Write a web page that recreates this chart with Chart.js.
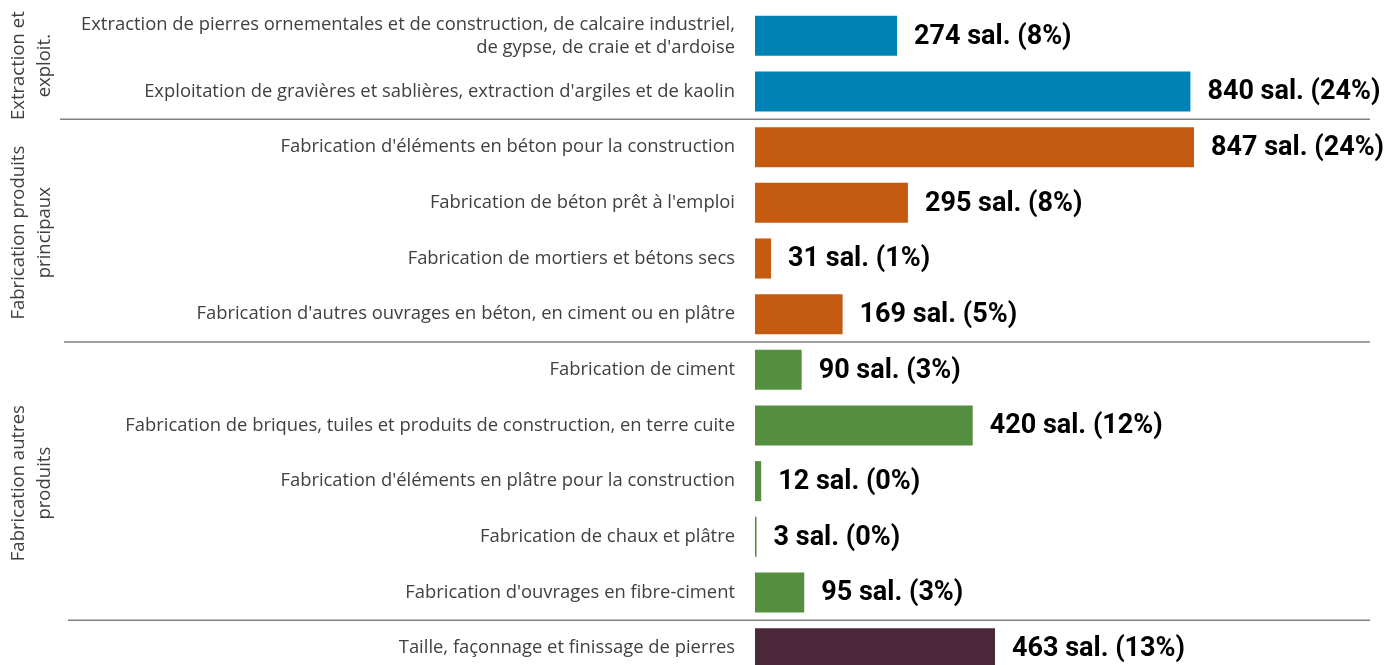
<!DOCTYPE html>
<html>
<head>
<meta charset="utf-8">
<script src="https://cdn.jsdelivr.net/npm/chart.js@4/dist/chart.umd.min.js"></script>
<style>
  html, body { margin: 0; padding: 0; background: #fff; overflow: hidden; }
  canvas { display: block; }
</style>
</head>
<body>
<canvas id="chart" width="1397" height="676"></canvas>
<script>
// données du graphique
const categories = [
  ["Extraction de pierres ornementales et de construction, de calcaire industriel,", "de gypse, de craie et d'ardoise"],
  "Exploitation de gravières et sablières, extraction d'argiles et de kaolin",
  "Fabrication d'éléments en béton pour la construction",
  "Fabrication de béton prêt à l'emploi",
  "Fabrication de mortiers et bétons secs",
  "Fabrication d'autres ouvrages en béton, en ciment ou en plâtre",
  "Fabrication de ciment",
  "Fabrication de briques, tuiles et produits de construction, en terre cuite",
  "Fabrication d'éléments en plâtre pour la construction",
  "Fabrication de chaux et plâtre",
  "Fabrication d'ouvrages en fibre-ciment",
  "Taille, façonnage et finissage de pierres"
];
const salaries = [274, 840, 847, 295, 31, 169, 90, 420, 12, 3, 95, 463];
const percents = [8, 24, 24, 8, 1, 5, 3, 12, 0, 0, 3, 13];
const groupOf = [0, 0, 1, 1, 1, 1, 2, 2, 2, 2, 2, 3];
const groupNames = [["Extraction et", "exploit."], ["Fabrication produits", "principaux"], ["Fabrication autres", "produits"], null];
const groupColors = ['#0083B4', '#C55A11', '#548F3F', '#4A2839'];

// étiquettes de valeur au bout des barres
const valueLabels = {
  id: 'valueLabels',
  afterDatasetsDraw(chart) {
    const ctx = chart.ctx;
    const meta = chart.getDatasetMeta(0);
    ctx.save();
    ctx.font = 'bold 27px Roboto';
    ctx.fillStyle = '#000';
    ctx.textAlign = 'left';
    ctx.textBaseline = 'middle';
    meta.data.forEach((bar, i) => {
      ctx.fillText(salaries[i] + ' sal. (' + percents[i] + '%)', bar.x + 17, bar.y + 1);
    });
    ctx.restore();
  }
};

// séparateurs et noms de groupes
const groupDecor = {
  id: 'groupDecor',
  afterDraw(chart) {
    const ctx = chart.ctx;
    const y = chart.scales.y;
    const lineStarts = [60, 64, 68];
    ctx.save();
    ctx.strokeStyle = '#808080';
    ctx.lineWidth = 1.5;
    let s = 0;
    for (let i = 0; i < groupOf.length - 1; i++) {
      if (groupOf[i] !== groupOf[i + 1]) {
        const py = (y.getPixelForValue(i) + y.getPixelForValue(i + 1)) / 2;
        ctx.beginPath();
        ctx.moveTo(lineStarts[s++], py);
        ctx.lineTo(1370, py);
        ctx.stroke();
      }
    }
    ctx.font = '18.5px "Open Sans"';
    ctx.fillStyle = '#404040';
    ctx.textAlign = 'center';
    ctx.textBaseline = 'middle';
    groupNames.forEach((name, g) => {
      if (!name) return;
      const idx = groupOf.map((v, i) => v === g ? i : -1).filter(i => i >= 0);
      const yc = (y.getPixelForValue(idx[0]) + y.getPixelForValue(idx[idx.length - 1])) / 2;
      ctx.save();
      ctx.translate(19, yc + 2);
      ctx.rotate(-Math.PI / 2);
      name.forEach((line, k) => ctx.fillText(line, 0, k * 26));
      ctx.restore();
    });
    ctx.restore();
  }
};

new Chart(document.getElementById('chart'), {
  type: 'bar',
  data: {
    labels: categories,
    datasets: [{
      data: salaries,
      backgroundColor: groupOf.map(g => groupColors[g]),
      barPercentage: 0.72,
      categoryPercentage: 1
    }]
  },
  options: {
    indexAxis: 'y',
    responsive: false,
    animation: false,
    layout: { padding: { top: 8, right: 20, bottom: 0, left: 0 } },
    plugins: { legend: { display: false }, tooltip: { enabled: false } },
    scales: {
      x: { display: false, min: 0, max: 1200 },
      y: {
        afterFit(scale) {
          scale.width = 755;
          scale.paddingTop = 0;
          scale.paddingBottom = 0;
        },
        grid: { display: false, drawTicks: false },
        border: { display: false },
        ticks: {
          padding: 20,
          color: '#404040',
          font: { family: 'Open Sans', size: 18.4, lineHeight: 1.25 }
        }
      }
    }
  },
  plugins: [valueLabels, groupDecor]
});
</script>
</body>
</html>
